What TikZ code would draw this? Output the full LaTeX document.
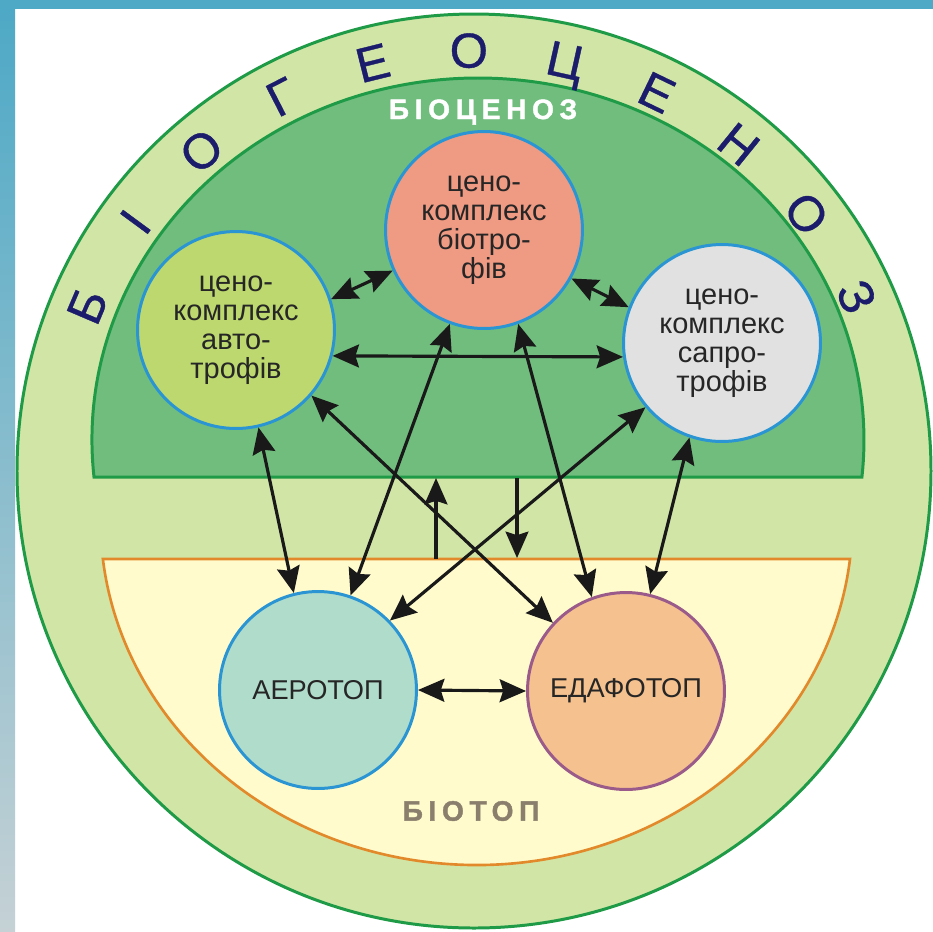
\documentclass[tikz,border=0pt]{standalone}
\usepackage{fontspec}
\setmainfont{Liberation Sans}
\newfontfamily\spacedfont[LetterSpace=20,FakeBold=1.5]{Liberation Sans Bold}
\newfontfamily\ringfont[FakeBold=0.8]{Liberation Sans}
\usetikzlibrary{arrows.meta,calc}
\definecolor{frameblue}{HTML}{4EA9C6}
\definecolor{framelight}{HTML}{A9D5E6}
\definecolor{framegray}{HTML}{C5D1D5}
\definecolor{bandgreen}{HTML}{D1E6A6}
\definecolor{ringgreen}{HTML}{1F9A47}
\definecolor{biocgreen}{HTML}{70BD7E}
\definecolor{biotopfill}{HTML}{FFFBCC}
\definecolor{biotopline}{HTML}{E28A2B}
\definecolor{biotoptext}{HTML}{8A7E6C}
\definecolor{ringnavy}{HTML}{1C1C6C}
\definecolor{circleblue}{HTML}{2A95D2}
\definecolor{edafline}{HTML}{9A5A8A}
\definecolor{biotrofill}{HTML}{EF9A83}
\definecolor{avtofill}{HTML}{BCD86E}
\definecolor{saprofill}{HTML}{E1E1E1}
\definecolor{aerofill}{HTML}{AFDCCB}
\definecolor{edaffill}{HTML}{F5C18F}
\definecolor{textdark}{HTML}{262626}
\newcommand{\cenocircle}[5]% name, centre, fill, border, text
{\node[cenonode,fill=#3,draw=#4] (#1) at (#2) {#5};
}
\tikzset{
  cenonode/.style={circle,line width=1.7pt,minimum size=3.94cm,inner sep=0pt,
    align=center,text=textdark,font=\fontsize{16.5}{16.5}\selectfont},
  headtip/.tip={Stealth[length=15pt,width=13pt,inset=2pt]},
  link/.style={headtip-headtip,line width=1.8pt,black!90},
  oneway/.style={-headtip,line width=1.8pt,black!90},
  ringletter/.style={text=ringnavy,font=\ringfont\fontsize{28}{28}\selectfont,
    text height=20pt,text depth=0pt,inner sep=0pt},
}

\begin{document}
\begin{tikzpicture}[x=0.02cm,y=-0.02cm]
  \useasboundingbox (0,0) rectangle (933,931);
  \fill[white] (0,0) rectangle (933,931);
  \fill[frameblue] (0,0) rectangle (933,9);
  \shade[top color=frameblue,middle color=framelight,bottom color=framegray] (0,9) rectangle (15,931);

  \coordinate (C) at (474,471);
  \draw[ringgreen,line width=1.7pt,fill=bandgreen] (C) circle[radius=457];
  \draw[ringgreen,line width=1.7pt,fill=biocgreen]
    (94,477) arc[start angle=174.13,end angle=365.87,x radius=386,y radius=362] -- cycle;
  \draw[biotopline,line width=1.5pt,fill=biotopfill]
    (850,559) arc[start angle=6.49,end angle=173.51,x radius=376,y radius=345] -- cycle;

  \foreach \l [count=\i from 0] in {Б,І,О,Г,Е,О,Ц,Е,Н,О,З}{
    \pgfmathsetmacro\ang{156.9-13.24*\i}
    \node[ringletter,rotate=\ang-90] (ring\i) at ($(C)+(-\ang:421)$) {\l};
  }
  \node[text=white,font=\spacedfont\fontsize{16}{16}\selectfont] (bioc) at (483,112) {БІОЦЕНОЗ};
  \node[text=biotoptext,font=\spacedfont\fontsize{16}{16}\selectfont] (biot) at (471,811) {БІОТОП};

  \cenocircle{biotr}{484,230}{biotrofill}{circleblue}{цено-\\комплекс\\біотро-\\фів}
  \cenocircle{avto}{236,330}{avtofill}{circleblue}{цено-\\комплекс\\авто-\\трофів}
  \cenocircle{sapro}{722,343}{saprofill}{circleblue}{цено-\\комплекс\\сапро-\\трофів}
  \cenocircle{aero}{318,690}{aerofill}{circleblue}{\fontsize{15.5}{16}\selectfont АЕРОТОП}
  \cenocircle{edaf}{626,691}{edaffill}{edafline}{\fontsize{15.5}{16}\selectfont ЕДАФОТОП}

  \draw[link] (avto.18) -- (biotr.204);
  \draw[link] (biotr.-29) -- (sapro.159);
  \draw[link] (avto.-15) -- (sapro.188);
  \draw[link] (avto.-77) -- (aero.104);
  \draw[link] (biotr.-110) -- (aero.71);
  \draw[link] (avto.-41) -- (edaf.137);
  \draw[link] (sapro.220) -- (aero.44);
  \draw[link] (biotr.-70) -- (edaf.110);
  \draw[link] (sapro.-109) -- (edaf.76);
  \draw[link] (aero.0) -- (edaf.180);

  \coordinate (upfoot) at (436,559);
  \coordinate (uptip) at (436,478);
  \coordinate (downfoot) at (517,478);
  \coordinate (downtip) at (517,558);
  \draw[oneway] (upfoot) -- (uptip);
  \draw[oneway] (downfoot) -- (downtip);
\end{tikzpicture}
\end{document}
